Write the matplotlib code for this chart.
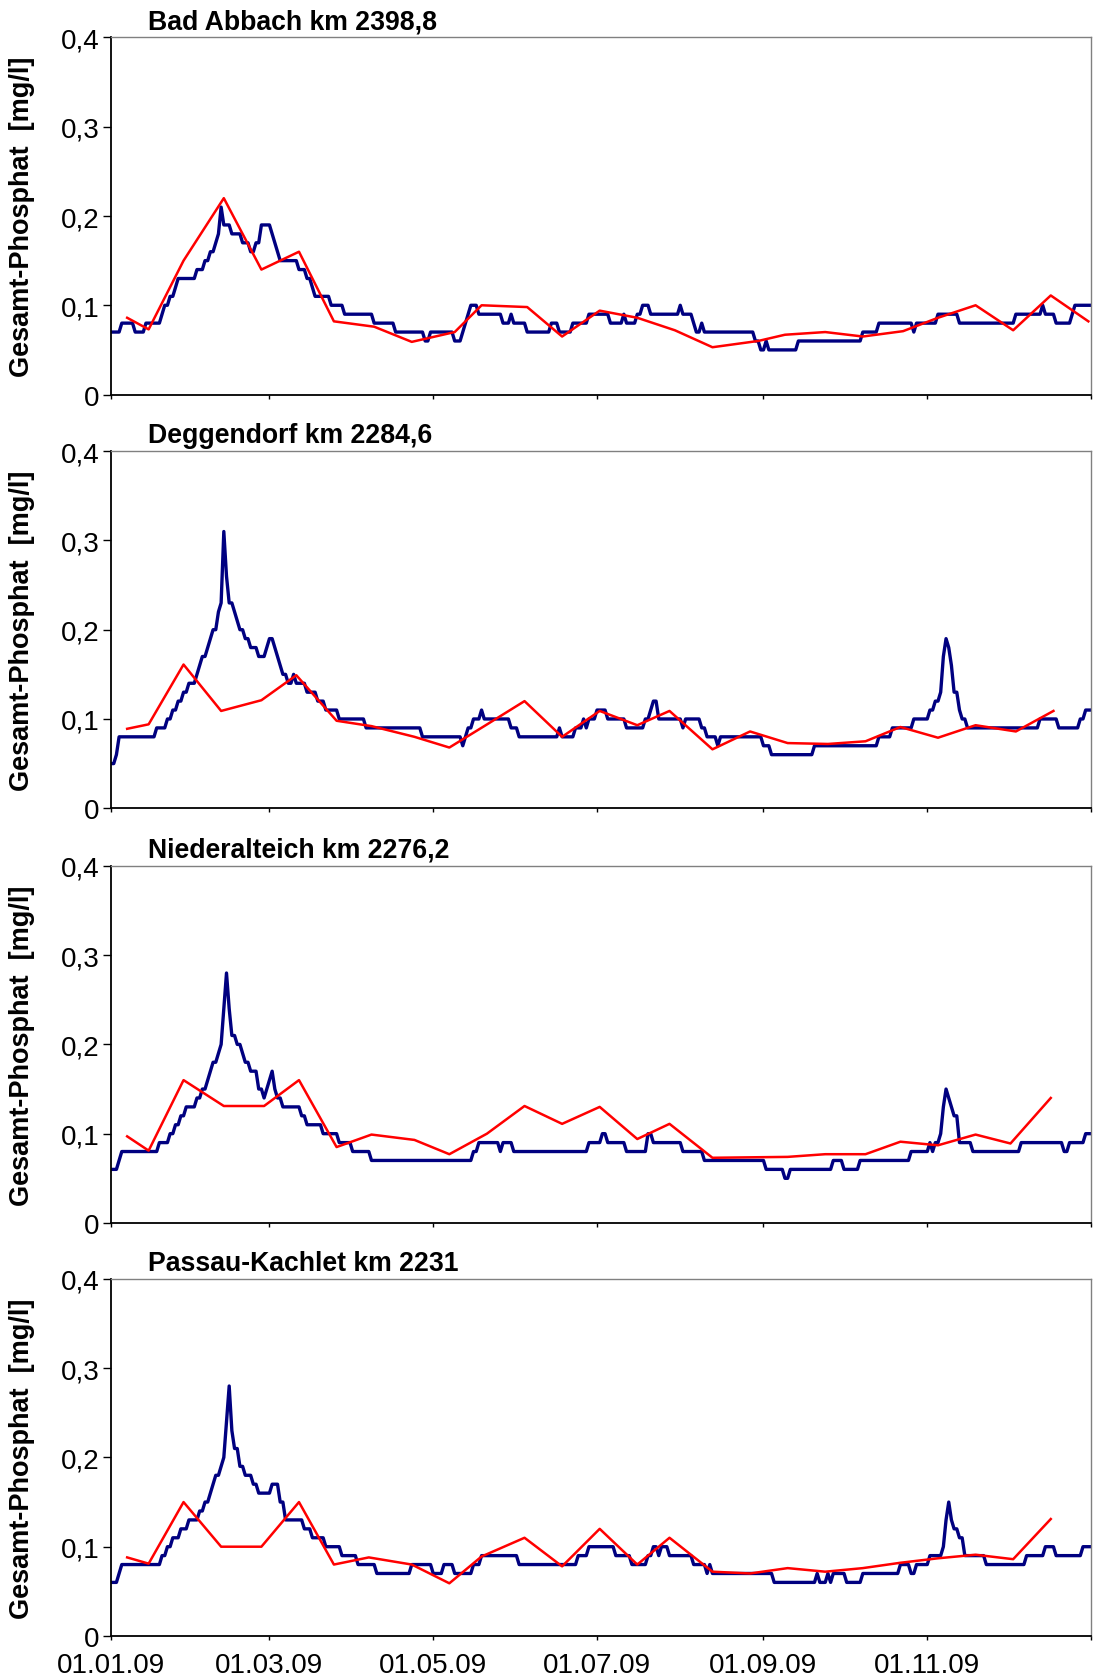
import numpy as np
import matplotlib

matplotlib.use("Agg")
import matplotlib.pyplot as plt

plt.rcParams["font.family"] = ["Liberation Sans", "DejaVu Sans"]

NAVY = "#000080"
RED = "#ff0000"

# x axis: day of year 2009 (0 = 01.01.09)
x_tick_days = [0, 59, 120, 181, 243, 304, 365]
x_tick_labels = ["01.01.09", "01.03.09", "01.05.09", "01.07.09", "01.09.09", "01.11.09", ""]
y_ticks = [0, 0.1, 0.2, 0.3, 0.4]
y_tick_labels = ["0", "0,1", "0,2", "0,3", "0,4"]

station_names = [
    "Bad Abbach km 2398,8",
    "Deggendorf km 2284,6",
    "Niederalteich km 2276,2",
    "Passau-Kachlet km 2231",
]

# daily series as (first day, value) runs
abbach_daily = [
    (0, .07), (4, .08), (9, .07), (13, .08), (19, .09), (20, .10), (22, .11), (24, .12),
    (25, .13), (32, .14), (35, .15), (37, .16), (39, .17), (40, .18), (41, .21), (42, .19),
    (45, .18), (49, .17), (52, .16), (54, .17), (56, .19), (60, .18), (61, .17), (62, .16),
    (63, .15), (70, .14), (73, .13), (75, .12), (76, .11), (82, .10), (87, .09), (98, .08),
    (106, .07), (117, .06), (119, .07), (128, .06), (131, .07), (132, .08), (133, .09),
    (134, .10), (137, .09), (146, .08), (149, .09), (150, .08), (155, .07), (164, .08),
    (167, .07), (172, .08), (178, .09), (186, .08), (191, .09), (192, .08), (196, .09),
    (198, .10), (201, .09), (212, .10), (213, .09), (217, .08), (218, .07), (220, .08),
    (221, .07), (240, .06), (242, .05), (244, .06), (245, .05), (256, .06), (280, .07),
    (286, .08), (299, .07), (300, .08), (308, .09), (316, .08), (337, .09), (347, .10),
    (348, .09), (352, .08), (358, .09), (359, .10),
]
deggendorf_daily = [
    (0, .05), (2, .06), (3, .08), (17, .09), (21, .10), (23, .11), (25, .12), (27, .13),
    (29, .14), (32, .15), (33, .16), (34, .17), (36, .18), (37, .19), (38, .20), (40, .22),
    (41, .23), (42, .31), (43, .26), (44, .23), (46, .22), (47, .21), (48, .20), (50, .19),
    (52, .18), (55, .17), (58, .18), (59, .19), (61, .18), (62, .17), (63, .16), (64, .15),
    (66, .14), (68, .15), (69, .14), (73, .13), (77, .12), (80, .11), (85, .10), (95, .09),
    (116, .08), (131, .07), (132, .08), (133, .09), (135, .10), (138, .11), (139, .10),
    (149, .09), (152, .08), (167, .09), (168, .08), (173, .09), (176, .10), (177, .09),
    (178, .10), (181, .11), (185, .10), (192, .09), (199, .10), (201, .11), (202, .12),
    (204, .10), (213, .09), (214, .10), (220, .09), (222, .08), (226, .07), (227, .08),
    (243, .07), (246, .06), (262, .07), (286, .08), (291, .09), (299, .10), (305, .11),
    (307, .12), (309, .13), (310, .17), (311, .19), (312, .18), (313, .16), (314, .13),
    (316, .11), (317, .10), (319, .09), (346, .10), (353, .09), (361, .10), (363, .11),
]
niederalteich_daily = [
    (0, .06), (3, .07), (4, .08), (18, .09), (22, .10), (24, .11), (26, .12), (28, .13),
    (32, .14), (34, .15), (36, .16), (37, .17), (38, .18), (40, .19), (41, .20), (42, .24),
    (43, .28), (44, .24), (45, .21), (47, .20), (49, .19), (50, .18), (52, .17), (55, .15),
    (57, .14), (58, .15), (59, .16), (60, .17), (61, .15), (62, .14), (64, .13), (71, .12),
    (73, .11), (79, .10), (85, .09), (90, .08), (97, .07), (135, .08), (137, .09),
    (145, .08), (146, .09), (150, .08), (178, .09), (183, .10), (185, .09), (192, .08),
    (200, .10), (202, .09), (213, .08), (221, .07), (244, .06), (251, .05), (253, .06),
    (269, .07), (273, .06), (279, .07), (298, .08), (305, .09), (306, .08), (307, .09),
    (309, .10), (310, .13), (311, .15), (312, .14), (313, .13), (314, .12), (316, .09),
    (321, .08), (339, .09), (355, .08), (357, .09), (363, .10),
]
passau_daily = [
    (0, .06), (3, .07), (4, .08), (19, .09), (21, .10), (23, .11), (26, .12), (29, .13),
    (33, .14), (35, .15), (37, .16), (38, .17), (39, .18), (41, .19), (42, .20), (43, .24),
    (44, .28), (45, .23), (46, .21), (48, .19), (50, .18), (53, .17), (55, .16), (60, .17),
    (63, .15), (65, .13), (72, .12), (75, .11), (80, .10), (86, .09), (92, .08), (99, .07),
    (112, .08), (120, .07), (124, .08), (128, .07), (135, .08), (138, .09), (152, .08),
    (174, .09), (178, .10), (188, .09), (194, .08), (200, .09), (202, .10), (204, .09),
    (205, .10), (208, .09), (217, .08), (222, .07), (223, .08), (224, .07), (247, .06),
    (263, .07), (264, .06), (267, .07), (268, .06), (269, .07), (274, .06), (280, .07),
    (294, .08), (298, .07), (300, .08), (305, .09), (310, .10), (311, .13), (312, .15),
    (313, .13), (314, .12), (316, .11), (318, .09), (326, .08), (341, .09), (348, .10),
    (352, .09), (362, .10),
]

# fortnightly grab samples
abbach_sample_days = [6, 14, 27, 42, 56, 70, 83, 98, 112, 128, 138, 155, 168, 182, 196,
                      210, 224, 241, 251, 266, 280, 295, 308, 322, 336, 350, 364]
abbach_sample_values = [0.086, 0.073, 0.150, 0.220, 0.140, 0.160, 0.082, 0.076, 0.059,
                        0.070, 0.100, 0.098, 0.065, 0.094, 0.086, 0.072, 0.053, 0.060,
                        0.067, 0.070, 0.065, 0.071, 0.086, 0.100, 0.072, 0.111, 0.082]
deggendorf_sample_days = [6, 14, 27, 41, 56, 69, 84, 97, 113, 126, 139, 154, 168, 182,
                          196, 208, 224, 238, 252, 267, 281, 294, 308, 322, 337, 351]
deggendorf_sample_values = [0.089, 0.094, 0.161, 0.109, 0.121, 0.149, 0.098, 0.092,
                            0.080, 0.068, 0.092, 0.120, 0.080, 0.109, 0.093, 0.109,
                            0.066, 0.086, 0.073, 0.072, 0.075, 0.091, 0.079, 0.093,
                            0.086, 0.109]
niederalteich_sample_days = [6, 14, 27, 42, 57, 70, 84, 97, 113, 126, 140, 154, 168, 182,
                             196, 208, 224, 252, 266, 281, 294, 308, 322, 335, 350]
niederalteich_sample_values = [0.097, 0.081, 0.160, 0.131, 0.131, 0.160, 0.085, 0.099,
                               0.093, 0.077, 0.100, 0.131, 0.111, 0.130, 0.094, 0.111,
                               0.073, 0.074, 0.077, 0.077, 0.091, 0.087, 0.099, 0.089,
                               0.140]
passau_sample_days = [6, 14, 27, 41, 56, 70, 83, 96, 112, 126, 138, 154, 168, 182, 196,
                      208, 224, 238, 252, 266, 280, 294, 308, 322, 336, 350]
passau_sample_values = [0.088, 0.081, 0.150, 0.100, 0.100, 0.150, 0.080, 0.088, 0.080,
                        0.059, 0.089, 0.110, 0.078, 0.120, 0.080, 0.110, 0.072, 0.070,
                        0.076, 0.072, 0.076, 0.082, 0.087, 0.091, 0.086, 0.131]


def expand_runs(runs, days):
    starts = np.array([s for s, _ in runs])
    values = np.array([v for _, v in runs])
    idx = np.searchsorted(starts, days, side="right") - 1
    return values[idx]


def draw_panel(ax, name, runs, sample_days, sample_values, show_dates):
    days = np.arange(0, 366)
    ax.plot(days, expand_runs(runs, days), color=NAVY, lw=2.4)
    ax.plot(sample_days, sample_values, color=RED, lw=1.8)

    ax.set_xlim(0, 365)
    ax.set_ylim(0, 0.4)
    ax.set_yticks(y_ticks)
    ax.set_yticklabels(y_tick_labels)
    ax.set_xticks(x_tick_days)
    ax.set_xticklabels(x_tick_labels if show_dates else [])
    ax.tick_params(axis="y", direction="out", length=5.5, width=1, pad=3, labelsize=20)
    ax.tick_params(axis="x", direction="out", length=3, width=1, pad=8.5, labelsize=20)

    for side in ("left", "bottom"):
        ax.spines[side].set_color("black")
        ax.spines[side].set_linewidth(1.3)
    for side in ("top", "right"):
        ax.spines[side].set_color("#808080")
        ax.spines[side].set_linewidth(1.0)

    ax.set_ylabel("Gesamt-Phosphat  [mg/l]", fontsize=19.5, fontweight="bold")
    ax.yaxis.set_label_coords(-0.078, 0.5)
    ax.text(0.038, 1.025, name, transform=ax.transAxes, ha="left", va="baseline",
            fontsize=19.2, fontweight="bold")


if __name__ == "__main__":
    fig = plt.figure(figsize=(10.93, 16.81), dpi=100)
    bottoms = [0.7647, 0.5186, 0.2719, 0.0262]
    panels = [
        (abbach_daily, abbach_sample_days, abbach_sample_values),
        (deggendorf_daily, deggendorf_sample_days, deggendorf_sample_values),
        (niederalteich_daily, niederalteich_sample_days, niederalteich_sample_values),
        (passau_daily, passau_sample_days, passau_sample_values),
    ]
    for i, (name, bottom, (runs, sd, sv)) in enumerate(zip(station_names, bottoms, panels)):
        ax = fig.add_axes([0.1016, bottom, 0.8966, 0.2124])
        draw_panel(ax, name, runs, sd, sv, show_dates=(i == len(panels) - 1))

    fig.savefig("out.png", dpi=100)
